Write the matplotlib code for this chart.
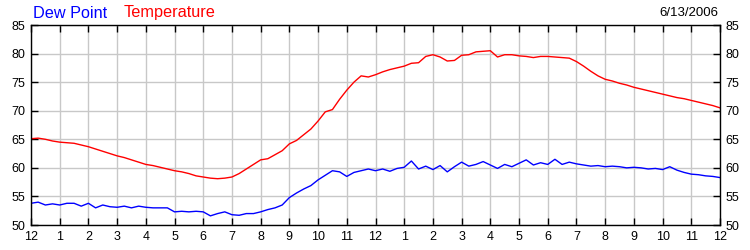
import numpy as np
import matplotlib
matplotlib.use('Agg')
import matplotlib.pyplot as plt

plt.rcParams['font.family'] = ['Liberation Sans', 'DejaVu Sans']

# readings every 15 minutes, midnight to midnight
hours = np.arange(0, 24.01, 0.25)

temperature = [65.1, 65.2, 65.0, 64.7, 64.5, 64.4, 64.3, 64.0, 63.7, 63.3,
               62.9, 62.5, 62.1, 61.8, 61.4, 61.0, 60.6, 60.4, 60.1, 59.8,
               59.5, 59.3, 59.0, 58.6, 58.4, 58.2, 58.1, 58.2, 58.4, 59.0,
               59.8, 60.6, 61.4, 61.6, 62.3, 63.0, 64.2, 64.8, 65.8, 66.8,
               68.2, 69.8, 70.2, 72.0, 73.6, 75.0, 76.1, 75.9, 76.3, 76.8,
               77.2, 77.5, 77.8, 78.3, 78.4, 79.5, 79.8, 79.4, 78.7, 78.8,
               79.7, 79.8, 80.3, 80.4, 80.5, 79.4, 79.8, 79.8, 79.6, 79.5,
               79.3, 79.5, 79.5, 79.4, 79.3, 79.2, 78.6, 77.8, 76.9, 76.1,
               75.5, 75.2, 74.8, 74.5, 74.1, 73.8, 73.5, 73.2, 72.9, 72.6,
               72.3, 72.1, 71.8, 71.5, 71.2, 70.9, 70.5]

dew_point = [53.8, 54.0, 53.5, 53.7, 53.5, 53.8, 53.8, 53.3, 53.8, 53.0,
             53.5, 53.2, 53.1, 53.3, 53.0, 53.3, 53.1, 53.0, 53.0, 53.0,
             52.3, 52.4, 52.3, 52.4, 52.3, 51.6, 52.0, 52.3, 51.8, 51.7,
             52.0, 52.0, 52.3, 52.7, 53.0, 53.5, 54.8, 55.6, 56.3, 56.9,
             57.9, 58.7, 59.5, 59.3, 58.5, 59.2, 59.5, 59.8, 59.5, 59.8,
             59.4, 59.9, 60.1, 61.2, 59.8, 60.3, 59.7, 60.4, 59.3, 60.2,
             61.0, 60.3, 60.6, 61.1, 60.5, 59.9, 60.6, 60.2, 60.8, 61.4,
             60.5, 60.9, 60.6, 61.5, 60.6, 61.0, 60.7, 60.5, 60.3, 60.4,
             60.2, 60.3, 60.2, 60.0, 60.1, 60.0, 59.8, 59.9, 59.7, 60.2,
             59.6, 59.2, 58.9, 58.8, 58.6, 58.5, 58.3]

hour_labels = ['12'] + [str(h) for h in range(1, 12)] + ['12'] + [str(h) for h in range(1, 12)] + ['12']
y_ticks = [50, 55, 60, 65, 70, 75, 80, 85]

fig = plt.figure(figsize=(7.5, 2.5), dpi=100)
ax = fig.add_axes([31/750, 0.1, 689/750, 0.8])

ax.plot(hours, temperature, color='#ff0000', lw=1)
ax.plot(hours, dew_point, color='#0000ff', lw=1)

ax.set_xlim(0, 24)
ax.set_ylim(50, 85)
ax.set_xticks(range(25))
ax.set_xticklabels(hour_labels)
ax.set_yticks(y_ticks)
ax.grid(True, color='#c8c8c8', lw=1)
ax.set_axisbelow(True)
ax.tick_params(direction='in', length=5, width=1, labelsize=9, pad=4,
               top=True, right=True, labelright=True)
for s in ax.spines.values():
    s.set_linewidth(1)

fig.text(33/750, 1 - 13/250, 'Dew Point', color='#0000ff', fontsize=11.7, va='center')
fig.text(124/750, 1 - 13/250, 'Temperature', color='#ff0000', fontsize=11.7, va='center')
fig.text(718/750, 1 - 13/250, '6/13/2006', color='black', fontsize=9.5, va='center', ha='right')

fig.savefig('out.png', dpi=100)
